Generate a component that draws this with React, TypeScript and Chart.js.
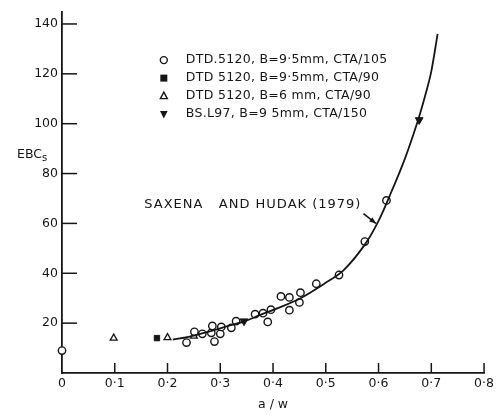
import { useEffect, useRef } from 'react';
import { Chart, registerables } from 'chart.js';

Chart.register(...registerables);

// Fitted curve (Saxena and Hudak, 1979)
const curveX = [0.21, 0.24, 0.28, 0.315, 0.347, 0.377, 0.409, 0.452, 0.497, 0.534, 0.574, 0.6, 0.625, 0.65, 0.675, 0.69, 0.7, 0.712];
const curveY = [13.4, 14.5, 16.7, 18.9, 20.8, 23.4, 26.0, 30.0, 35.8, 41.3, 51.5, 61, 73, 86, 101.5, 112.5, 121, 136];

// DTD.5120, B=9.5mm, CTA/105 (open circles)
const circleX = [0, 0.236, 0.251, 0.266, 0.283, 0.285, 0.289, 0.3, 0.302, 0.321, 0.33, 0.366, 0.381, 0.396, 0.39, 0.415, 0.431, 0.452, 0.431, 0.45, 0.482, 0.525, 0.574, 0.615];
const circleY = [9, 12.2, 16.5, 15.7, 16.1, 18.9, 12.6, 15.7, 18.5, 18.1, 20.8, 23.6, 24.0, 25.4, 20.5, 30.7, 30.3, 32.2, 25.2, 28.3, 35.8, 39.3, 52.7, 69.2];

// DTD 5120, B=9.5mm, CTA/90 (filled squares)
const squareX = [0.18];
const squareY = [14];

// DTD 5120, B=6mm, CTA/90 (open triangles)
const triangleX = [0.098, 0.2, 0.25];
const triangleY = [14, 14.2, 14.8];

// BS.L97, B=9.5mm, CTA/150 (filled down triangles)
const downX = [0.345, 0.677];
const downY = [20.8, 101.5];

const xTicks = [0, 0.1, 0.2, 0.3, 0.4, 0.5, 0.6, 0.7, 0.8];
const yTicks = [0, 20, 40, 60, 80, 100, 120, 140];

const legendLabels = [
  'DTD.5120, B=9·5mm, CTA/105',
  'DTD 5120, B=9·5mm, CTA/90',
  'DTD 5120, B=6 mm, CTA/90',
  'BS.L97, B=9 5mm, CTA/150',
];
const annotationText = 'SAXENA   AND HUDAK (1979)';
const xTitle = 'a / w';
const yTitleMain = 'EBC';
const yTitleSub = 's';

const INK = '#161616';
const FONT = '"DejaVu Sans", sans-serif';

const pts = (xs: number[], ys: number[]) => xs.map((x, i) => ({ x, y: ys[i] }));

const drawMarker = (ctx: CanvasRenderingContext2D, kind: number, x: number, y: number) => {
  ctx.save();
  ctx.strokeStyle = INK;
  ctx.fillStyle = INK;
  ctx.lineWidth = 1.4;
  ctx.beginPath();
  if (kind === 0) {
    ctx.arc(x, y, 3.5, 0, Math.PI * 2);
    ctx.stroke();
  } else if (kind === 1) {
    ctx.rect(x - 3.5, y - 3.5, 7, 7);
    ctx.fill();
  } else if (kind === 2) {
    ctx.moveTo(x, y - 4);
    ctx.lineTo(x + 3.5, y + 2.5);
    ctx.lineTo(x - 3.5, y + 2.5);
    ctx.closePath();
    ctx.stroke();
  } else {
    ctx.moveTo(x, y + 4.5);
    ctx.lineTo(x + 3.8, y - 3);
    ctx.lineTo(x - 3.8, y - 3);
    ctx.closePath();
    ctx.fill();
  }
  ctx.restore();
};

const decorPlugin = {
  id: 'decor',
  afterDraw(chart: any) {
    const { ctx, chartArea, scales } = chart;
    const xs = scales.x;
    const ys = scales.y;
    ctx.save();
    ctx.strokeStyle = INK;
    ctx.lineWidth = 1.5;
    // inward tick marks
    yTicks.filter((v) => v > 0).forEach((v) => {
      const py = ys.getPixelForValue(v);
      ctx.beginPath();
      ctx.moveTo(chartArea.left, py);
      ctx.lineTo(chartArea.left + 15, py);
      ctx.stroke();
    });
    xTicks.filter((v) => v > 0).forEach((v) => {
      const px = xs.getPixelForValue(v);
      ctx.beginPath();
      ctx.moveTo(px, chartArea.bottom);
      ctx.lineTo(px, chartArea.bottom - 10);
      ctx.stroke();
    });

    // y title (horizontal, with subscript)
    ctx.fillStyle = INK;
    ctx.textBaseline = 'middle';
    ctx.textAlign = 'left';
    ctx.font = `12.5px ${FONT}`;
    const yTitleY = ys.getPixelForValue(87.5);
    ctx.fillText(yTitleMain, 17, yTitleY);
    const w = ctx.measureText(yTitleMain).width;
    ctx.font = `10px ${FONT}`;
    ctx.fillText(yTitleSub, 17 + w, yTitleY + 4);

    // annotation text and arrow
    ctx.font = `13px ${FONT}`;
    (ctx as any).letterSpacing = '1px';
    const annY = ys.getPixelForValue(67.5);
    const annX = xs.getPixelForValue(0.156);
    ctx.fillText(annotationText, annX, annY);
    const tw = ctx.measureText(annotationText).width;
    (ctx as any).letterSpacing = '0px';
    const sx = annX + tw + 2;
    const sy = annY + 9;
    const tx = xs.getPixelForValue(0.595);
    const ty = ys.getPixelForValue(60);
    ctx.lineWidth = 1.6;
    ctx.beginPath();
    ctx.moveTo(sx, sy);
    ctx.lineTo(tx, ty);
    ctx.stroke();
    const ang = Math.atan2(ty - sy, tx - sx);
    ctx.beginPath();
    ctx.moveTo(tx, ty);
    ctx.lineTo(tx - 7 * Math.cos(ang - 0.4), ty - 7 * Math.sin(ang - 0.4));
    ctx.lineTo(tx - 7 * Math.cos(ang + 0.4), ty - 7 * Math.sin(ang + 0.4));
    ctx.closePath();
    ctx.fill();

    // legend
    ctx.font = `12.5px ${FONT}`;
    (ctx as any).letterSpacing = '0.3px';
    const lx = xs.getPixelForValue(0.193);
    const ly0 = ys.getPixelForValue(125.5);
    legendLabels.forEach((label, i) => {
      const ly = ly0 + i * 18;
      drawMarker(ctx, i, lx, ly);
      ctx.fillStyle = INK;
      ctx.fillText(label, lx + 22, ly);
    });
    (ctx as any).letterSpacing = '0px';
    ctx.restore();
  },
};

export default function App() {
  const ref = useRef<HTMLCanvasElement | null>(null);

  useEffect(() => {
    if (!ref.current) return;
    const chart = new Chart(ref.current, {
      type: 'scatter',
      data: {
        datasets: [
          {
            type: 'line',
            label: 'Saxena and Hudak (1979)',
            data: pts(curveX, curveY),
            borderColor: INK,
            borderWidth: 1.8,
            pointRadius: 0,
            fill: false,
            tension: 0.35,
            clip: false,
          } as any,
          {
            label: legendLabels[0],
            data: pts(circleX, circleY),
            pointStyle: 'circle',
            pointRadius: 3.7,
            pointBorderWidth: 1.4,
            pointBackgroundColor: '#ffffff',
            pointBorderColor: INK,
            clip: false,
          } as any,
          {
            label: legendLabels[1],
            data: pts(squareX, squareY),
            pointStyle: 'rect',
            pointRadius: 3.8,
            pointBackgroundColor: INK,
            pointBorderColor: INK,
            clip: false,
          } as any,
          {
            label: legendLabels[2],
            data: pts(triangleX, triangleY),
            pointStyle: 'triangle',
            pointRadius: 4,
            pointBorderWidth: 1.3,
            pointBackgroundColor: '#ffffff',
            pointBorderColor: INK,
            clip: false,
          } as any,
          {
            label: legendLabels[3],
            data: pts(downX, downY),
            pointStyle: 'triangle',
            rotation: 180,
            pointRadius: 4.5,
            pointBackgroundColor: INK,
            pointBorderColor: INK,
            clip: false,
          } as any,
        ],
      },
      options: {
        animation: false,
        responsive: true,
        maintainAspectRatio: false,
        layout: { padding: { left: 0, right: 8, top: 4, bottom: 0 } },
        plugins: {
          legend: { display: false },
          tooltip: { enabled: false },
        },
        scales: {
          x: {
            type: 'linear',
            min: 0,
            max: 0.8,
            afterFit: (s: any) => {
              s.height = 42;
            },
            afterBuildTicks: (s: any) => {
              s.ticks = xTicks.map((v) => ({ value: v }));
            },
            ticks: {
              color: INK,
              font: { family: FONT, size: 12.5 },
              padding: 3,
              maxRotation: 0,
              autoSkip: false,
              callback: (v: any) => (Number(v) === 0 ? '0' : Number(v).toFixed(1).replace('.', '·')),
            },
            grid: { display: true, drawOnChartArea: false, drawTicks: false },
            border: { display: true, color: INK, width: 1.8 },
            title: {
              display: true,
              text: xTitle,
              color: INK,
              font: { family: FONT, size: 12.5 },
              padding: { top: 0, bottom: 3 },
            },
          },
          y: {
            type: 'linear',
            min: 0,
            max: 145,
            afterFit: (s: any) => {
              s.width = 62;
            },
            afterBuildTicks: (s: any) => {
              s.ticks = yTicks.map((v) => ({ value: v }));
            },
            ticks: {
              color: INK,
              font: { family: FONT, size: 12.5 },
              padding: 4,
              autoSkip: false,
              callback: (v: any) => (Number(v) === 0 ? '' : String(v)),
            },
            grid: { display: true, drawOnChartArea: false, drawTicks: false },
            border: { display: true, color: INK, width: 1.8 },
          },
        },
      },
      plugins: [decorPlugin],
    });
    return () => chart.destroy();
  }, []);

  return (
    <div style={{ position: 'absolute', left: 0, top: 0, width: 497, height: 415, background: '#fff' }}>
      <canvas ref={ref} />
    </div>
  );
}
